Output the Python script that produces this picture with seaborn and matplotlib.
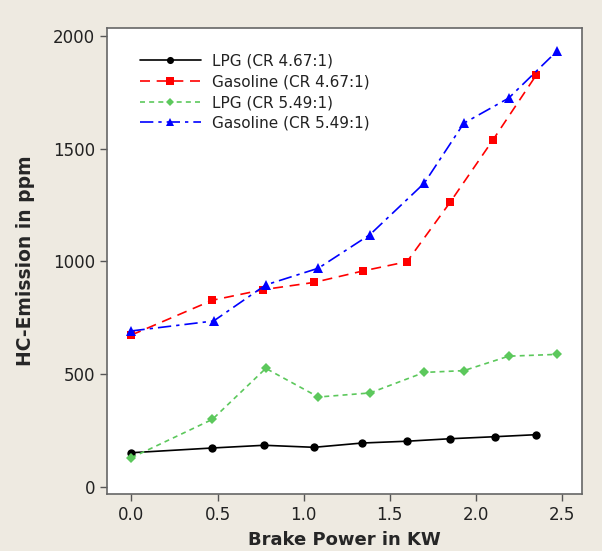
import pandas as pd
import numpy as np
import seaborn as sns
import matplotlib
matplotlib.use("Agg")
import matplotlib.pyplot as plt

# Werte
lpg_467_x = [0.0, 0.47, 0.77, 1.06, 1.34, 1.60, 1.85, 2.11, 2.35]
lpg_467_y = [152, 173, 185, 176, 195, 203, 214, 223, 232]

gas_467_x = [0.0, 0.47, 0.765, 1.06, 1.345, 1.60, 1.85, 2.10, 2.35]
gas_467_y = [674, 828, 875, 907, 958, 999, 1262, 1540, 1826]

lpg_549_x = [0.0, 0.47, 0.78, 1.085, 1.385, 1.70, 1.93, 2.19, 2.47]
lpg_549_y = [130, 300, 526, 399, 417, 508, 516, 580, 588]

gas_549_x = [0.0, 0.477, 0.78, 1.085, 1.385, 1.70, 1.93, 2.19, 2.47]
gas_549_y = [692, 736, 896, 970, 1119, 1347, 1613, 1724, 1932]

labels = ["LPG (CR 4.67:1)", "Gasoline (CR 4.67:1)", "LPG (CR 5.49:1)", "Gasoline (CR 5.49:1)"]

frames = []
for lab, xs, ys in zip(labels,
                       [lpg_467_x, gas_467_x, lpg_549_x, gas_549_x],
                       [lpg_467_y, gas_467_y, lpg_549_y, gas_549_y]):
    frames.append(pd.DataFrame({"Brake Power": xs, "HC": ys, "Serie": lab}))
df = pd.concat(frames, ignore_index=True)

sns.set_style("white")
plt.rcParams['font.family'] = ['DejaVu Sans']

bg = "#EEEAE1"
fig = plt.figure(figsize=(6.02, 5.51), dpi=100, facecolor=bg)
ax = fig.add_axes([107 / 602, 1 - 494 / 551, (582 - 107) / 602, (494 - 28) / 551])

styles = {
    labels[0]: dict(color="black", marker="o", ls="-", ms=6, lw=1.2),
    labels[1]: dict(color="#FF0000", marker="s", ls=(0, (6, 4)), ms=6, lw=1.2),
    labels[2]: dict(color="#5CC85C", marker="D", ls=(0, (3, 2.5)), ms=5, lw=1.2),
    labels[3]: dict(color="#0000FF", marker="^", ls=(0, (8, 3, 2, 3)), ms=7, lw=1.2),
}
for lab in labels:
    st = styles[lab]
    sns.lineplot(data=df[df["Serie"] == lab], x="Brake Power", y="HC", ax=ax,
                 color=st["color"], marker=st["marker"], linestyle=st["ls"],
                 markersize=st["ms"], linewidth=st["lw"], markeredgewidth=0,
                 label=lab, sort=False)

ax.set_xlim(-0.142, 2.616)
ax.set_ylim(-31, 2035)
ax.set_xticks([0.0, 0.5, 1.0, 1.5, 2.0, 2.5])
ax.set_xticklabels(["0.0", "0.5", "1.0", "1.5", "2.0", "2.5"])
ax.set_yticks([0, 500, 1000, 1500, 2000])
ax.tick_params(axis="both", direction="out", length=5, width=1, color="#555555",
               labelsize=12, colors="#222222", bottom=True, left=True)
for sp in ax.spines.values():
    sp.set_color("#666666")
    sp.set_linewidth(1.2)

ax.set_xlabel("Brake Power in KW", fontsize=13, fontweight="bold", labelpad=5)
ax.set_ylabel("HC-Emission in ppm", fontsize=13.5, fontweight="bold", labelpad=13)

leg = ax.legend(loc="upper left", frameon=False, fontsize=11,
                bbox_to_anchor=(0.04, 0.975), handlelength=4, labelspacing=0.38,
                handletextpad=0.7, markerscale=0.85)
for t in leg.get_texts():
    t.set_color("#222222")

fig.savefig("out.png", dpi=100, facecolor=bg)
